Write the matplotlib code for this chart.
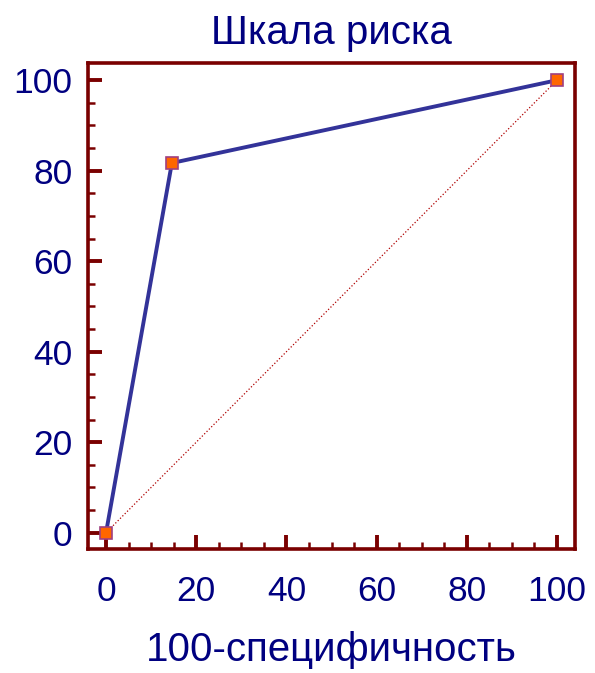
import matplotlib
matplotlib.use("Agg")
import matplotlib.pyplot as plt
from matplotlib.ticker import MultipleLocator

# ROC points (100-specificity, sensitivity)
fpr = [0, 14.6, 100]
tpr = [0, 81.7, 100]
diag = [0, 100]

NAVY = "#000080"
FRAME = "#7a0000"

plt.rcParams["font.family"] = ["Liberation Sans", "DejaVu Sans"]

fig = plt.figure(figsize=(5.95, 6.73), dpi=100)
ax = fig.add_axes([88 / 595, 124 / 673, 487 / 595, 486 / 673])

ax.plot(diag, diag, ls=":", lw=0.9, color="#b00000", zorder=2)
ax.plot(fpr, tpr, color="#333399", lw=2.8, zorder=3,
        marker="s", ms=8.5, mfc="#ff6600", mec="#a04080", mew=1.2)

ax.set_xlim(-4, 104)
ax.set_ylim(-3.6, 103.8)
ax.xaxis.set_major_locator(MultipleLocator(20))
ax.yaxis.set_major_locator(MultipleLocator(20))
ax.xaxis.set_minor_locator(MultipleLocator(5))
ax.yaxis.set_minor_locator(MultipleLocator(5))

for s in ax.spines.values():
    s.set_color(FRAME)
    s.set_linewidth(2.6)
ax.tick_params(which="both", direction="in", color=FRAME, labelcolor=NAVY,
               labelsize=25.5, top=False, right=False)
ax.tick_params(which="major", length=10, width=2.8)
ax.tick_params(which="minor", length=5, width=1.8)
ax.tick_params(axis="x", which="major", pad=19)
ax.tick_params(axis="y", which="major", pad=11)

ax.set_title("Шкала риска", color=NAVY, fontsize=29, pad=14)
ax.set_xlabel("100-специфичность", color=NAVY, fontsize=29, labelpad=16)

fig.savefig("out.png", dpi=100)
